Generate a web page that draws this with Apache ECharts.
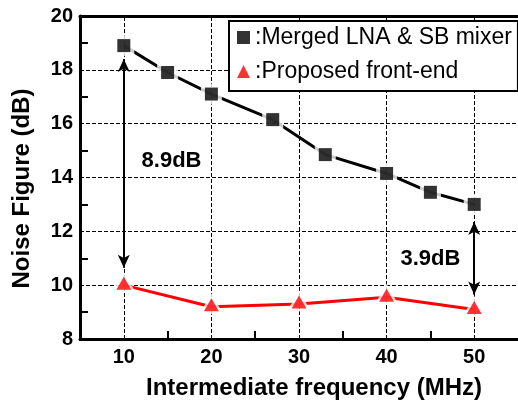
<!DOCTYPE html>
<html>
<head>
<meta charset="utf-8">
<script src="https://cdn.jsdelivr.net/npm/echarts@6/dist/echarts.min.js"></script>
<style>html,body{margin:0;padding:0;background:#fff;}#c{width:518px;height:405px;}</style>
</head>
<body>
<div id="c"></div>
<script>
const seriesNames = ['Merged LNA & SB mixer', 'Proposed front-end'];
const xBlack = [10, 15, 20, 27, 33, 40, 45, 50];
const yBlack = [18.9, 17.9, 17.1, 16.15, 14.85, 14.15, 13.45, 13.0];
const xRed = [10, 20, 30, 40, 50];
const yRed = [10.0, 9.2, 9.3, 9.55, 9.1];
const xTickLabels = [10, 20, 30, 40, 50];
const xMinorTicks = [15, 25, 35, 45];
const xGridLines = [10, 20, 30, 40, 50];
const yGridLines = [10, 12, 14, 16, 18];
const arrowX = [10, 50];
const arrowTop = [18.4, 12.35];
const arrowBottom = [10.65, 9.65];
const noteText = ['8.9dB', '3.9dB'];
const noteX = [15.45, 45];
const noteY = [14.6, 10.98];

const FONT = 'Liberation Sans, Arial, sans-serif';
const blackData = xBlack.map((x, i) => [x, yBlack[i]]);
const redData = xRed.map((x, i) => [x, yRed[i]]);
const dotted = {color: '#000', width: 1, type: 'dashed', dashOffset: 0};

const chart = echarts.init(document.getElementById('c'), null, {renderer: 'canvas'});
chart.setOption({
  animation: false,
  backgroundColor: '#fff',
  grid: {left: 80, right: -2, top: 16, bottom: 63},
  legend: {
    orient: 'vertical', left: 229, top: 21,
    itemWidth: 13, itemHeight: 13, itemGap: 11,
    padding: [5, 6, 8, 8],
    borderColor: '#000', borderWidth: 2, backgroundColor: '#fff',
    textStyle: {fontSize: 23, color: '#000', fontFamily: FONT},
    formatter: n => ':' + n,
    data: seriesNames
  },
  xAxis: [{
    type: 'value', min: 5, max: 55,
    axisLine: {lineStyle: {color: '#000', width: 3}},
    axisTick: {show: true, inside: true, length: 8, lineStyle: {color: '#000', width: 2}, customValues: xMinorTicks},
    axisLabel: {customValues: xTickLabels, margin: 8, color: '#000', fontWeight: 'bold', fontSize: 20, fontFamily: FONT},
    splitLine: {show: false},
    name: 'Intermediate frequency (MHz)', nameLocation: 'middle', nameGap: 37,
    nameTextStyle: {color: '#000', fontWeight: 'bold', fontSize: 24, fontFamily: FONT, padding: [0, 0, 0, 30]}
  }, {
    type: 'value', min: 5, max: 55, position: 'top',
    axisLine: {show: true, lineStyle: {color: '#000', width: 3}},
    axisTick: {show: false}, axisLabel: {show: false}, splitLine: {show: false}
  }],
  yAxis: {
    type: 'value', min: 8, max: 20, interval: 2,
    axisLine: {lineStyle: {color: '#000', width: 3}},
    axisTick: {show: false, inside: true},
    minorTick: {show: true, splitNumber: 2, length: 8, lineStyle: {color: '#000', width: 2}},
    axisLabel: {margin: 7, color: '#000', fontWeight: 'bold', fontSize: 20, fontFamily: FONT},
    splitLine: {show: false},
    name: 'Noise Figure (dB)', nameLocation: 'middle', nameGap: 46,
    nameTextStyle: {color: '#000', fontWeight: 'bold', fontSize: 24, fontFamily: FONT, padding: [0, 22, 0, 0]}
  },
  series: [
    {
      name: 'blackLine', type: 'line', data: blackData, showSymbol: false, z: 2, silent: true,
      lineStyle: {color: '#000', width: 3},
      markLine: {
        silent: true, z: 1, symbol: ['none', 'none'], animation: false,
        lineStyle: dotted,
        label: {show: false},
        emphasis: {disabled: true},
        data: xGridLines.map(v => ({xAxis: v})).concat(yGridLines.map(v => ({yAxis: v})))
      }
    },
    {
      name: 'redLine', type: 'line', data: redData, showSymbol: false, z: 2, silent: true,
      lineStyle: {color: '#ff0000', width: 3}
    },
    {
      name: 'blackHalo', type: 'scatter', data: blackData, symbol: 'rect', symbolSize: 21, z: 3, silent: true,
      itemStyle: {color: '#fff'}
    },
    {
      name: 'redHalo', type: 'scatter', data: redData, symbol: 'triangle', symbolSize: [24, 21], symbolOffset: [0, -3], z: 3, silent: true,
      itemStyle: {color: '#fff'}
    },
    {
      name: seriesNames[0], type: 'scatter', data: blackData, symbol: 'rect', symbolSize: 13, z: 4,
      itemStyle: {color: '#000'},
      markLine: {
        silent: true, z: 6, symbol: ['arrow', 'arrow'], symbolSize: [9, 13], animation: false,
        lineStyle: {color: '#000', width: 2, type: 'solid'},
        label: {show: false},
        data: arrowX.map((x, i) => [{coord: [x, arrowTop[i]]}, {coord: [x, arrowBottom[i]]}])
      },
      markPoint: {
        silent: true, symbol: 'circle', symbolSize: 0, animation: false,
        label: {show: true, position: 'inside', formatter: p => p.name, color: '#000', fontWeight: 'bold', fontSize: 22, fontFamily: FONT},
        data: noteText.map((t, i) => ({name: t, coord: [noteX[i], noteY[i]]}))
      }
    },
    {
      name: seriesNames[1], type: 'scatter', data: redData, symbol: 'triangle', symbolSize: [15, 13], symbolOffset: [0, -2], z: 4,
      itemStyle: {color: '#ff0000'}
    }
  ]
});
</script>
</body>
</html>
